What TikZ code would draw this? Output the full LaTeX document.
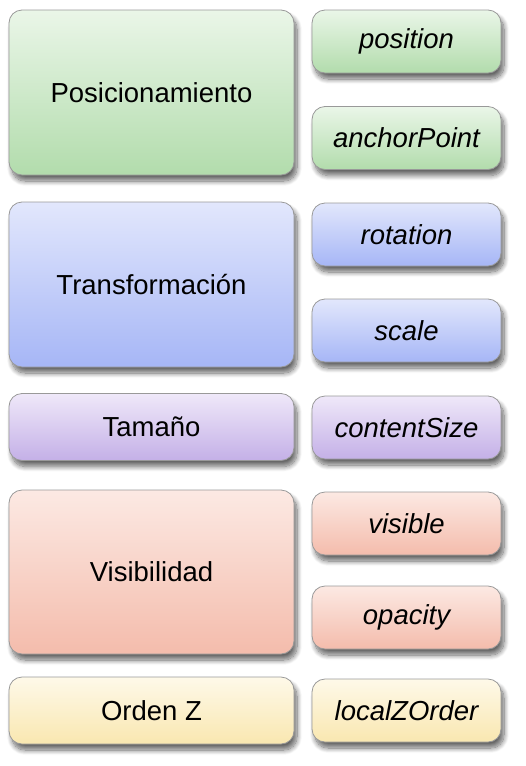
\documentclass[tikz,border=0pt]{standalone}
\usepackage{fontspec}
\setmainfont{Liberation Sans}
\usetikzlibrary{shadows.blur}

\definecolor{greenTop}{RGB}{234,246,232}
\definecolor{greenBot}{RGB}{178,220,172}
\definecolor{blueTop}{RGB}{226,231,252}
\definecolor{blueBot}{RGB}{166,182,246}
\definecolor{violetTop}{RGB}{239,232,249}
\definecolor{violetBot}{RGB}{196,176,231}
\definecolor{redTop}{RGB}{252,233,227}
\definecolor{redBot}{RGB}{244,188,172}
\definecolor{yellowTop}{RGB}{254,249,233}
\definecolor{yellowBot}{RGB}{249,231,176}

\begin{document}
\begin{tikzpicture}[x=1pt,y=-1pt,
  box/.style={draw=black!40, line width=0.8pt, rounded corners=13pt, inner sep=0pt,
    font=\fontsize{27.5}{33}\selectfont, align=center,
    blur shadow={shadow xshift=3pt, shadow yshift=-6pt, shadow blur radius=5pt,
      shadow blur steps=10, shadow opacity=60}},
  group/.style={box, minimum width=285pt},
  prop/.style={box, minimum width=189pt, minimum height=63pt, font=\fontsize{27.5}{33}\selectfont\itshape},
  green/.style={top color=greenTop, bottom color=greenBot},
  blue/.style={top color=blueTop, bottom color=blueBot},
  violet/.style={top color=violetTop, bottom color=violetBot},
  red/.style={top color=redTop, bottom color=redBot},
  yellow/.style={top color=yellowTop, bottom color=yellowBot}]
\useasboundingbox (0,0) rectangle (525,766);

\node[group, green, minimum height=165pt] (posicion) at (151.5,92.5) {Posicionamiento};
\node[prop, green] (position) at (406.5,41.5) {position};
\node[prop, green] (anchor) at (406.5,138) {anchorPoint};

\node[group, blue, minimum height=165pt] (transform) at (151.5,284.5) {Transformación};
\node[prop, blue] (rotation) at (406.5,234.5) {rotation};
\node[prop, blue] (scale) at (406.5,330.5) {scale};

\node[group, violet, minimum height=67pt] (tamano) at (151.5,427) {Tamaño};
\node[prop, violet] (size) at (406.5,427.5) {contentSize};

\node[group, red, minimum height=164pt] (visib) at (151.5,572) {Visibilidad};
\node[prop, red] (visible) at (406.5,523.5) {visible};
\node[prop, red] (opacity) at (406.5,617.5) {opacity};

\node[group, yellow, minimum height=67pt] (orden) at (151.5,710.5) {Orden Z};
\node[prop, yellow] (zorder) at (406.5,710.5) {localZOrder};
\end{tikzpicture}
\end{document}
